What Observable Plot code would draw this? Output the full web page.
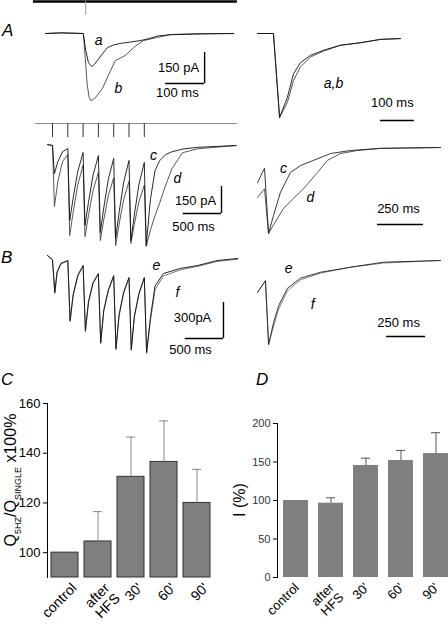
<!DOCTYPE html>
<html><head><meta charset="utf-8">
<script src="https://cdn.jsdelivr.net/npm/d3@7"></script>
<script src="https://cdn.jsdelivr.net/npm/@observablehq/plot@0.6"></script>
<style>
html,body{margin:0;padding:0;background:#fff;overflow:hidden}
#fig{position:relative;width:448px;height:626px;overflow:hidden;font-family:"Liberation Sans",Arial,Helvetica,sans-serif;color:#000}
.letter{position:absolute;font-style:italic;font-size:17px;line-height:1}
.ylab{position:absolute;white-space:nowrap;transform:translate(-50%,-50%) rotate(-90deg);line-height:1}
#plotD g[aria-label="y-axis tick label"] text{fill:#333}
</style></head><body><div id="fig"></div>
<script>
// ---------- DATA ----------
// Panel A left: single EPSC, before (a) and after HFS (b); time ms, current pA
const aTime = [0, 40, 97, 103, 110, 118, 125, 133, 145, 159, 175, 192, 215, 244, 265, 287, 320, 380, 482];
const aCurr = [0, 3, 0, -80, -140, -160, -150, -131, -100, -68, -55, -48, -42, -34, -25, -12, -6, -3, 0];
const bTime = [0, 40, 97, 102, 107, 112, 116, 121, 128, 146, 167, 179, 205, 226, 251, 287, 321, 400, 482];
const bCurr = [0, 3, 0, -120, -250, -310, -324, -320, -310, -266, -179, -131, -106, -68, -34, -19, -5, 0, 0];
const stimA = [103];
// Panel A right: normalized a,b
const abTime = [0, 47, 65, 88, 106, 126, 156, 194, 244, 303, 362, 421];
const abNormA = [0, 0, -1, -0.76, -0.48, -0.35, -0.26, -0.2, -0.14, -0.11, -0.07, -0.06];
const abNormB = [0, 0, -1, -0.82, -0.56, -0.4, -0.28, -0.21, -0.14, -0.11, -0.07, -0.06];
// 5 Hz train stimulus times (ms)
const stimTimes = [0, 200, 400, 600, 800, 1000, 1200];
// Panel A trains c,d (pA)
const trainTime = [-65, 0, 25, 70, 130, 200, 225, 270, 330, 400, 425, 470, 530, 600, 625, 670, 730, 800, 825, 870, 930, 1000, 1025, 1070, 1130, 1200, 1225, 1280, 1340, 1400, 1480, 1560, 1700, 1900, 2400];
const cTrain = [5, 0, -156, -90, -35, -17, -417, -292, -145, -39, -444, -316, -165, -56, -483, -347, -187, -72, -517, -374, -205, -83, -528, -385, -216, -94, -556, -300, -140, -85, -50, -35, -20, -10, 0];
const dTrain = [5, 0, -339, -200, -90, -50, -500, -371, -219, -110, -506, -389, -250, -150, -528, -413, -277, -180, -556, -439, -300, -200, -544, -437, -311, -220, -561, -470, -390, -320, -220, -130, -40, -18, 0];
// normalized last EPSC c,d
const cNormTime = [0, 38, 60, 87, 125, 179, 234, 304, 397, 505, 668, 995];
const cNorm = [-0.41, -0.24, -1, -0.79, -0.52, -0.29, -0.21, -0.15, -0.07, -0.035, -0.01, 0];
const dNormTime = [0, 38, 60, 87, 141, 196, 250, 326, 380, 451, 543, 668, 995];
const dNorm = [-0.58, -0.48, -1, -0.9, -0.71, -0.59, -0.48, -0.29, -0.15, -0.07, -0.035, -0.01, 0];
// Panel B trains e,f (pA)
const efTime = [-65, 0, 30, 60, 110, 200, 230, 270, 330, 400, 430, 470, 530, 600, 630, 670, 730, 800, 830, 870, 930, 1000, 1030, 1070, 1130, 1200, 1230, 1280, 1340, 1450, 1670, 1900, 2150, 2420];
const eTrain = [25, -10, -283, -110, -40, -17, -517, -300, -140, -58, -600, -360, -200, -125, -700, -430, -260, -142, -750, -470, -280, -158, -758, -480, -290, -158, -783, -492, -230, -125, -83, -58, -17, 0];
const fTrain = [25, -10, -290, -120, -45, -20, -525, -310, -150, -62, -610, -370, -210, -130, -710, -440, -270, -150, -760, -480, -290, -165, -765, -490, -300, -165, -790, -520, -260, -145, -95, -65, -25, -5];
const efNormTime = [0, 51, 71, 103, 135, 192, 276, 404, 596, 808, 1173];
const eNorm = [-0.38, -0.24, -1, -0.74, -0.54, -0.33, -0.21, -0.14, -0.08, -0.02, 0];
const fNorm = [-0.38, -0.24, -1, -0.78, -0.58, -0.36, -0.23, -0.15, -0.08, -0.03, 0];
// Panels C, D
const groups = ["control", "after\nHFS", "30'", "60'", "90'"];
const qRatio = [100, 104.5, 130.5, 136.5, 120];
const qErr = [null, 116.5, 146.5, 153, 133.5];
const qTicks = [100, 120, 140, 160];
const iPct = [100, 96.5, 145.5, 152, 161];
const iErr = [null, 103.5, 155, 165, 188];
const iTicks = [0, 50, 100, 150, 200];

// ---------- DRAWING ----------
const FONT = '"Liberation Sans", Arial, Helvetica, sans-serif';
const fig = document.getElementById("fig");
const pts = (ts, vs) => ts.map((t, i) => ({t, v: vs[i]}));
function place(el, left, top, id) {
  el.style.position = "absolute"; el.style.left = left + "px"; el.style.top = top + "px";
  if (id) el.id = id;
  fig.appendChild(el);
}
function tracePanel(box, xDomain, yDomain, marks) {
  const p = Plot.plot({
    width: box.w, height: box.h, margin: 0,
    x: {domain: xDomain, axis: null}, y: {domain: yDomain, axis: null},
    style: {fontFamily: FONT, background: "transparent", overflow: "visible", fontSize: "13px"},
    marks
  });
  place(p, box.l, box.t);
}
const line = (ts, vs, stroke) => Plot.line(pts(ts, vs), {x: "t", y: "v", stroke, strokeWidth: 0.9});
function scaleBar(xEnd, yBase, dx, dy) {
  const m = [Plot.ruleY([yBase], {x1: xEnd - dx, x2: xEnd, stroke: "#000", strokeWidth: 1.4})];
  if (dy) m.push(Plot.ruleX([xEnd], {y1: yBase, y2: yBase + dy, stroke: "#000", strokeWidth: 1.4}));
  return m;
}
const txt = (s, x, y, o = {}) => Plot.text([s], {x, y, fontSize: 13, fill: "#000", ...o});
const lab = (s, x, y) => txt(s, x, y, {fontStyle: "italic", fontSize: 14});

// A left
tracePanel({l: 30, t: 0, w: 210, h: 115}, [-38.5, 500], [-396.7, 159.7], [
  Plot.ruleY([155], {x1: -31, x2: 492, stroke: "#000", strokeWidth: 2.5}),
  Plot.ruleX(stimA, {y1: 155, y2: 87, stroke: "#999", strokeWidth: 1}),
  line(bTime, bCurr, "#444"),
  line(aTime, aCurr, "#111"),
  ...scaleBar(408, -242, 100, 150),
  txt("150 pA", 341, -167), txt("100 ms", 338, -288),
  lab("a", 136, -34), lab("b", 187, -266)
]);
// A right
tracePanel({l: 250, t: 20, w: 198, h: 110}, [-20.6, 562.4], [-1.155, 0.155], [
  line(abTime, abNormB, "#444"),
  line(abTime, abNormA, "#111"),
  ...scaleBar(462, -1.036, 100, 0),
  txt("100 ms", 397, -0.83),
  lab("a,b", 224, -0.6)
]);
// c,d trains
tracePanel({l: 30, t: 115, w: 210, h: 140}, [-287.6, 2457.5], [-611, 166.7], [
  Plot.ruleY([122], {x1: -222, x2: 2418, stroke: "#888", strokeWidth: 1}),
  Plot.ruleX(stimTimes, {y1: 122, y2: 44, stroke: "#333", strokeWidth: 1}),
  line(trainTime, dTrain, "#444"),
  line(trainTime, cTrain, "#111"),
  ...scaleBar(2209, -378, 500, 150),
  txt("150 pA", 1869, -306), txt("500 ms", 1843, -450),
  lab("c", 1320, -55), lab("d", 1634, -183)
]);
// c,d normalized
tracePanel({l: 250, t: 135, w: 198, h: 100}, [-38, 1038], [-1.023, 0.1395], [
  line(dNormTime, dNorm, "#444"),
  line(cNormTime, cNorm, "#222"),
  ...scaleBar(902, -0.895, 250, 0),
  txt("250 ms", 766, -0.71),
  lab("c", 141, -0.24), lab("d", 288, -0.58)
]);
// e,f trains
tracePanel({l: 30, t: 250, w: 210, h: 110}, [-287.6, 2457.5], [-850, 66.7], [
  line(efTime, fTrain, "#666"),
  line(efTime, eTrain, "#111"),
  ...scaleBar(2235, -667, 500, 300),
  txt("300pA", 1830, -492), txt("500 ms", 1804, -758),
  lab("e", 1359, -58), lab("f", 1634, -283)
]);
// e,f normalized
tracePanel({l: 250, t: 255, w: 198, h: 95}, [-44.9, 1224], [-1.071, 0.0595], [
  line(efNormTime, fNorm, "#777"),
  line(efNormTime, eNorm, "#222"),
  ...scaleBar(1077, -0.905, 250, 0),
  txt("250 ms", 904, -0.74),
  lab("e", 199, -0.1), lab("f", 353, -0.52)
]);

// Bar charts
function barPanel(opts) {
  const data = groups.map((g, i) => ({g, v: opts.vals[i], e: opts.errs[i]}));
  const withErr = data.filter(d => d.e != null);
  const base = opts.domain[0];
  const p = Plot.plot({
    width: opts.w, height: 246,
    marginLeft: opts.ml, marginRight: opts.mr, marginTop: opts.mt, marginBottom: 49,
    x: {domain: groups, paddingInner: opts.pi, paddingOuter: opts.po, axis: null},
    y: {domain: opts.domain, ticks: opts.ticks, tickSize: 4, tickPadding: 3, line: true, label: null, tickFormat: d => String(d)},
    style: {fontFamily: FONT, background: "transparent", overflow: "visible", fontSize: opts.fs + "px", color: "#000"},
    marks: [
      Plot.barY(data, {x: "g", y1: base, y2: "v", fill: "#7f7f7f", stroke: opts.barStroke, strokeWidth: 1}),
      Plot.ruleX(withErr, {x: "g", y1: "v", y2: "e", stroke: opts.errColor, strokeWidth: 1}),
      Plot.tickY(withErr, {x: "g", y: "e", stroke: opts.errColor, strokeWidth: 1, insetLeft: opts.capInset, insetRight: opts.capInset}),
      Plot.text(data, {x: "g", y: base, text: "g", rotate: -45, textAnchor: "end", lineAnchor: "top", dx: opts.ldx, dy: 4, fontSize: opts.lfs, lineHeight: 1.05, fill: "#000"})
    ]
  });
  place(p, opts.l, 380, opts.id);
}
barPanel({id: "plotC", l: 0, w: 230, ml: 47, mr: 15, mt: 23, domain: [90, 160], ticks: qTicks, vals: qRatio, errs: qErr,
  pi: 0.176, po: 0.06, fs: 13, barStroke: "#333", errColor: "#888", capInset: 9, ldx: 5, lfs: 14});
barPanel({id: "plotD", l: 224, w: 232, ml: 53, mr: 2, mt: 43, domain: [0, 200], ticks: iTicks, vals: iPct, errs: iErr,
  pi: 0.29, po: 0.14, fs: 11, barStroke: "none", errColor: "#555", capInset: 8, ldx: -3, lfs: 13});

// Panel letters and y labels
function addDiv(cls, html, left, top, extra = "") {
  const d = document.createElement("div");
  d.className = cls; d.innerHTML = html;
  d.style.cssText += `left:${left}px;top:${top}px;` + extra;
  fig.appendChild(d);
}
addDiv("letter", "A", 2, 22);
addDiv("letter", "B", 1, 249);
addDiv("letter", "C", 1, 371);
addDiv("letter", "D", 256, 371);
addDiv("ylab", 'Q<sub style="font-size:9px">5HZ</sub>/Q<sub style="font-size:9px">SINGLE</sub> x100%', 13, 480, "font-size:16px;");
addDiv("ylab", "I (%)", 240, 500, "font-size:16px;");
</script>
</body></html>
